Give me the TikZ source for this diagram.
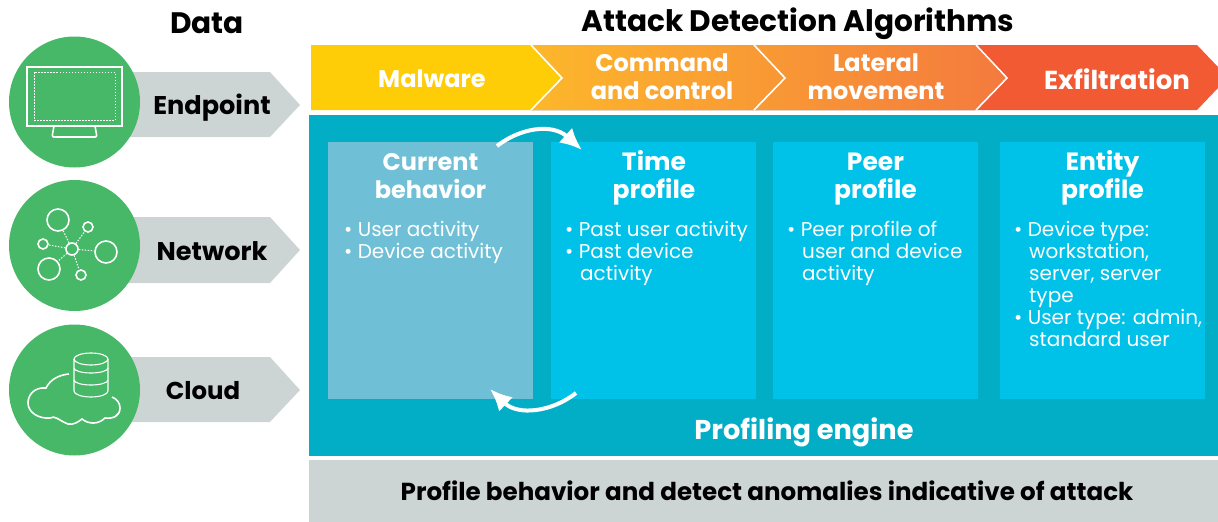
\documentclass[tikz,border=0pt]{standalone}
\usepackage{fontspec}
\usetikzlibrary{arrows.meta}
\setmainfont{Poppins}
\definecolor{bandgreen}{HTML}{46B868}
\definecolor{bandgrey}{HTML}{CDD5D4}
\definecolor{panelteal}{HTML}{02AEC6}
\definecolor{cardblue}{HTML}{00C1E8}
\definecolor{cardpale}{HTML}{6FC0D6}
\definecolor{malyellow}{HTML}{FFCC08}
\definecolor{exfilred}{HTML}{F25A33}
\definecolor{gradstart}{HTML}{FDB72B}
\definecolor{gradmid}{HTML}{F8A046}
\definecolor{gradend}{HTML}{F47A3E}
\tikzset{
    headtext/.style={font=\fontsize{24}{28}\selectfont\bfseries,align=center,inner sep=0pt},
    bigtext/.style={font=\fontsize{29.6}{34}\selectfont\bfseries,align=center,inner sep=0pt},
    bodytext/.style={font=\fontsize{20}{22}\selectfont,align=left,anchor=north west,inner sep=0pt,text=white},
    cardbox/.style={rectangle,minimum width=205pt,minimum height=257pt,inner sep=0pt,fill=cardblue},
    greencircle/.style={circle,minimum size=131pt,inner sep=0pt,fill=bandgreen},
    iconline/.style={draw=white,line width=1.6pt},
}
\newcommand{\hangsp}{\hspace*{15pt}}
\begin{document}
\begin{tikzpicture}[x=1pt,y=-1pt]
        \useasboundingbox (0,0) rectangle (1218,522);

        \node[bigtext] (datatitle) at (207,23) {Data};
        \node[bigtext] (algotitle) at (798,24) {Attack Detection Algorithms};

        \begin{scope}[fill=bandgrey]
            \fill (74,72) -- (270,72) -- (300,105) -- (270,137) -- (74,137) -- cycle;
            \fill (74,217) -- (270,217) -- (300,250) -- (270,283) -- (74,283) -- cycle;
            \fill (74,357) -- (270,357) -- (300,390) -- (270,422) -- (74,422) -- cycle;
        \end{scope}
        \node[greencircle] (endcircle) at (74.5,102) {};
        \node[greencircle] (netcircle) at (74.5,245.5) {};
        \node[greencircle] (cloudcircle) at (74.5,390) {};
        \begin{scope}[every node/.style={headtext,font=\fontsize{25.6}{30}\selectfont\bfseries}]
            \node (endlabel) at (212,108) {Endpoint};
            \node (netlabel) at (212,251) {Network};
            \node[font=\fontsize{24.4}{30}\selectfont\bfseries] (cloudlabel) at (203,391) {Cloud};
        \end{scope}

        % monitor
        \draw[iconline] (27,67) rectangle (122,126);
        \draw[white,line width=1pt,dash pattern=on 1.5pt off 1.5pt] (34,72) rectangle (115,120);
        \draw[iconline,rounded corners=2pt] (54,126) -- (52,137) -- (97,137) -- (95,126);

        % network
        \begin{scope}[every node/.style={circle,draw=white,line width=1.6pt,inner sep=0pt}]
            \node[minimum size=12pt] (n0) at (72,249) {};
            \node[minimum size=22pt] (n1) at (58,220) {};
            \node[minimum size=10pt] (n2) at (88,227) {};
            \node[minimum size=10pt] (n3) at (43,244) {};
            \node[minimum size=22pt] (n4) at (106,252) {};
            \node[minimum size=22pt] (n5) at (49,269) {};
            \node[minimum size=10pt] (n6) at (81,275) {};
        \end{scope}
        \foreach \n in {1,...,6} {\draw[white,line width=1pt,dash pattern=on 1.5pt off 1.5pt] (n0)--(n\n);}

        % cloud
        \draw[iconline,line width=1.1pt] (74,359) -- (74,391) arc[start angle=180,end angle=360,x radius=17,y radius=-6] -- (108,359);
        \draw[iconline,line width=1.1pt] (91,359) ellipse [x radius=17,y radius=6];
        \foreach \h in {368,380} {\draw[iconline,line width=1.1pt] (74,\h) arc[start angle=180,end angle=360,x radius=17,y radius=-5];}
        \draw[iconline] (69,374) .. controls (58,375) and (50,380) .. (46,388)
            .. controls (34,387) and (28,395) .. (28,403)
            .. controls (28,412) and (38,419) .. (50,418)
            .. controls (55,415) and (58,420) .. (68,424)
            .. controls (74,425) and (78,422) .. (82,419)
            .. controls (88,424) and (98,425) .. (105,418)
            .. controls (113,419) and (120,416) .. (120,408)
            .. controls (120,403) and (117,399) .. (112,397);

        % attack stages
        \fill[left color=gradstart,middle color=gradmid,right color=gradend]
            (531,45) -- (975,45) -- (1006,78) -- (975,110) -- (531,110) -- (562,78) -- cycle;
        \fill[malyellow] (311,45) -- (531,45) -- (562,78) -- (531,110) -- (311,110) -- cycle;
        \fill[exfilred] (975,45) -- (1197,45) -- (1218,67) -- (1218,88) -- (1197,110) -- (975,110) -- (1006,78) -- cycle;
        \foreach \x in {531,754,976} {\draw[white,line width=1.6pt] (\x,45) -- ({\x+31},78) -- (\x,110);}
        \begin{scope}[every node/.style={headtext,text=white}]
            \node (malware) at (432,79) {Malware};
            \node (command) at (662,77) {Command\\and control};
            \node (lateral) at (876,77) {Lateral\\movement};
            \node[font=\fontsize{26}{30}\selectfont\bfseries] (exfil) at (1117,79) {Exfiltration};
        \end{scope}

        % profiling engine
        \fill[panelteal] (309,115) rectangle (1218,456);
        \fill[bandgrey] (309,460) rectangle (1218,522);
        \node[cardbox,fill=cardpale] (current) at (430.5,270.5) {};
        \node[cardbox] (timecard) at (653.5,270.5) {};
        \node[cardbox] (peer) at (875.5,270.5) {};
        \node[cardbox] (entity) at (1102.5,270.5) {};

        \begin{scope}[every node/.style={headtext,text=white}]
            \node (currenttitle) at (430.5,176) {Current\\behavior};
            \node[font=\fontsize{25}{28}\selectfont\bfseries] (timetitle) at (654,178) {Time\\profile};
            \node[font=\fontsize{25}{28}\selectfont\bfseries] (peertitle) at (875.5,179) {Peer\\profile};
            \node[font=\fontsize{25}{28}\selectfont\bfseries] (entitytitle) at (1102.5,178) {Entity\\profile};
            \node[font=\fontsize{27.2}{32}\selectfont\bfseries] (engine) at (804,432) {Profiling engine};
        \end{scope}
        \node[bodytext] (currentlist) at (344,221) {• User activity\\• Device activity};
        \node[bodytext] (timelist) at (565,221) {• Past user activity\\• Past device\\\hangsp activity};
        \node[bodytext] (peerlist) at (787,221) {• Peer profile of\\\hangsp user and device\\\hangsp activity};
        \node[bodytext] (entitylist) at (1014,221) {• Device type:\\\hangsp workstation,\\\hangsp server, server\\\hangsp type\\• User type: admin,\\\hangsp standard user};

        \node[headtext,font=\fontsize{24.6}{28}\selectfont\bfseries] (summary) at (767,491) {Profile behavior and detect anomalies indicative of attack};

        \coordinate (topfrom) at (497,146);
        \coordinate (topto) at (582,150);
        \coordinate (botfrom) at (576,393);
        \coordinate (botto) at (490,389);
        \begin{scope}[line width=4pt,white,-{Latex[length=22pt,width=20pt]}]
            \draw (topfrom) .. controls (520,128) and (552,123) .. (topto);
            \draw (botfrom) .. controls (552,412) and (518,416) .. (botto);
        \end{scope}
    \end{tikzpicture}
\end{document}
